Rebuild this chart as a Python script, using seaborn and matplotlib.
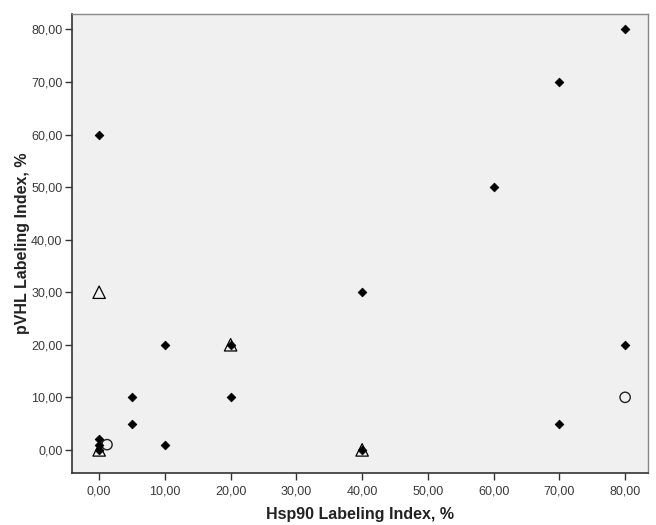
import pandas as pd
import matplotlib
matplotlib.use("Agg")
import matplotlib.pyplot as plt
import seaborn as sns
from matplotlib.ticker import FuncFormatter

# Hsp90 vs pVHL labeling index, grouped by marker type
diamond_x = [0, 0, 0, 0, 5, 5, 10, 10, 20, 20, 40, 40, 60, 70, 70, 80, 80]
diamond_y = [60, 2, 1, 0, 10, 5, 20, 1, 20, 10, 30, 0, 50, 70, 5, 80, 20]

triangle_x = [0, 0, 20, 40]
triangle_y = [30, 0, 20, 0]

circle_x = [1.2, 80]
circle_y = [1, 10]

x_ticks = [0, 10, 20, 30, 40, 50, 60, 70, 80]
y_ticks = [0, 10, 20, 30, 40, 50, 60, 70, 80]

sns.set_style("ticks")
plt.rcParams["font.family"] = ["Liberation Sans", "DejaVu Sans"]

fig = plt.figure(figsize=(6.56, 5.25), dpi=100)
ax = fig.add_axes([0.110, 0.099, 0.878, 0.874])
ax.set_facecolor("#f0f0f0")

df_d = pd.DataFrame({"x": diamond_x, "y": diamond_y})
df_t = pd.DataFrame({"x": triangle_x, "y": triangle_y})
df_c = pd.DataFrame({"x": circle_x, "y": circle_y})

sns.scatterplot(data=df_t, x="x", y="y", marker="^", s=80, facecolor="none",
                edgecolor="black", linewidth=0.9, ax=ax, zorder=3)
sns.scatterplot(data=df_c, x="x", y="y", marker="o", s=55, facecolor="none",
                edgecolor="#222222", linewidth=1.0, ax=ax, zorder=3)
sns.scatterplot(data=df_d, x="x", y="y", marker="D", s=20, color="black",
                edgecolor="black", linewidth=0.5, ax=ax, zorder=4)

ax.set_xlim(-4.1, 83.5)
ax.set_ylim(-4.4, 82.9)
ax.set_xticks(x_ticks)
ax.set_yticks(y_ticks)
fmt = FuncFormatter(lambda v, p: f"{v:.2f}".replace(".", ","))
ax.xaxis.set_major_formatter(fmt)
ax.yaxis.set_major_formatter(fmt)

ax.tick_params(axis="both", direction="out", length=5, width=1, color="#333333",
               labelsize=9, labelcolor="#3a3a3a", pad=2)
ax.tick_params(axis="x", pad=4)

for side in ["left", "bottom"]:
    ax.spines[side].set_color("#333333")
    ax.spines[side].set_linewidth(1.2)
for side in ["top", "right"]:
    ax.spines[side].set_visible(True)
    ax.spines[side].set_color("#888888")
    ax.spines[side].set_linewidth(1.0)

ax.set_xlabel("Hsp90 Labeling Index, %", fontsize=11.5, fontweight="bold",
              color="#222222", labelpad=7)
ax.set_ylabel("pVHL Labeling Index, %", fontsize=11.5, fontweight="bold",
              color="#222222", labelpad=1)

fig.savefig("out.png", dpi=100)
